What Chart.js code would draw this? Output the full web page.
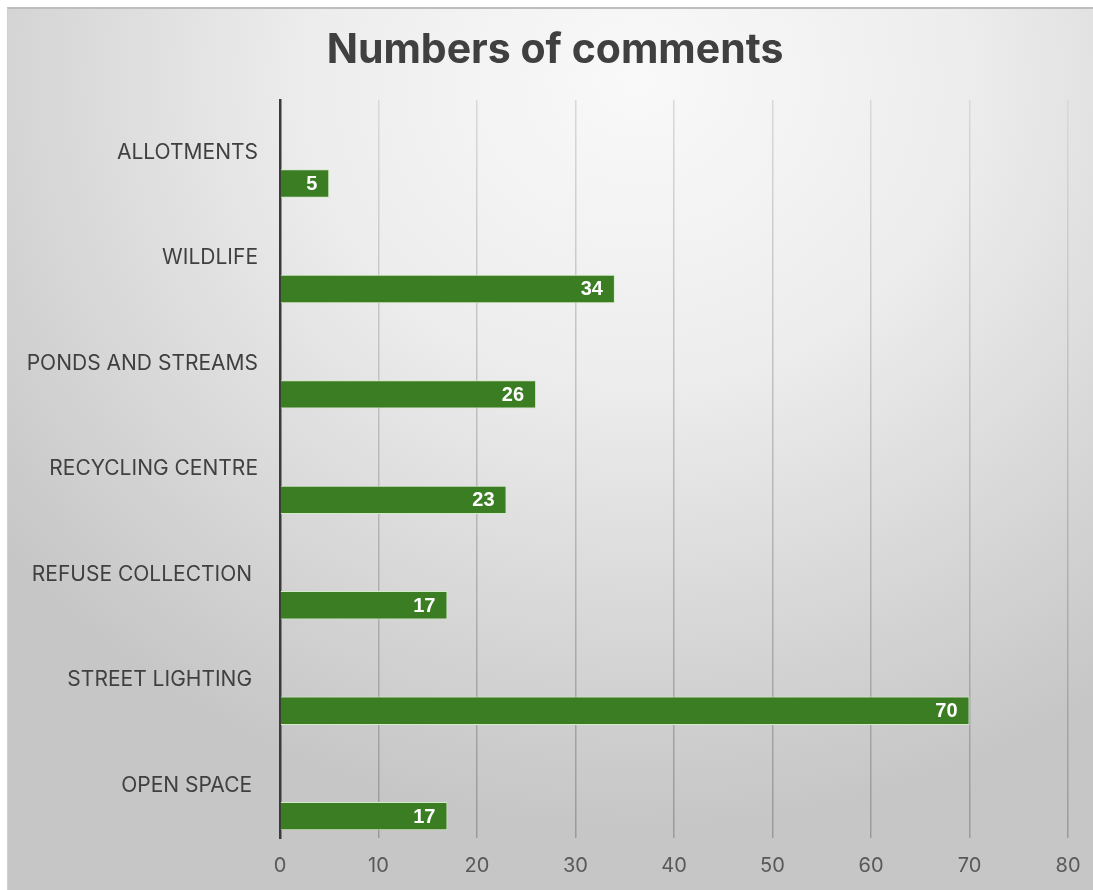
<!DOCTYPE html>
<html>
<head>
<meta charset="utf-8">
<script src="https://cdn.jsdelivr.net/npm/chart.js@4.4.1/dist/chart.umd.min.js"></script>
<style>
    html, body { margin: 0; padding: 0; background: #ffffff; }
    #frame {
        position: absolute; left: 7px; top: 7px; width: 1086px; height: 883px;
        border-top: 2px solid #bdbdbd; border-left: 1px solid #d0d0d0;
        box-sizing: border-box;
        background: radial-gradient(ellipse 75% 85% at 58% 8%, #f9f9f9 0%, #ededed 40%, #d6d6d6 75%, #c6c6c6 100%);
    }
    #wrap { position: absolute; left: 0; top: 0; width: 1093px; height: 890px; }
</style>
</head>
<body>
<div id="frame"></div>
<div id="wrap"><canvas id="commentsChart" width="1093" height="890"></canvas></div>
<script>
// Chart data
const chartTitle = 'Numbers of comments';
const categories = ['ALLOTMENTS', 'WILDLIFE', 'PONDS AND STREAMS', 'RECYCLING CENTRE', 'REFUSE COLLECTION ', 'STREET LIGHTING ', 'OPEN SPACE '];
const commentCounts = [5, 34, 26, 23, 17, 70, 17];
const spacerValues = [null, null, null, null, null, null, null];
const xTicks = [0, 10, 20, 30, 40, 50, 60, 70, 80];

// Title centred over the whole frame (the built-in title would sit off centre)
const frameTitle = {
    id: 'frameTitle',
    afterDraw(chart) {
        const ctx = chart.ctx;
        ctx.save();
        ctx.font = 'bold 41px Inter, "Liberation Sans", sans-serif';
        ctx.fillStyle = '#404040';
        ctx.textAlign = 'center';
        ctx.textBaseline = 'middle';
        ctx.fillText(chartTitle, 555, 51);
        ctx.restore();
    }
};

// Value labels drawn inside the bar ends
const barValueLabels = {
    id: 'barValueLabels',
    afterDatasetsDraw(chart) {
        const ctx = chart.ctx;
        const meta = chart.getDatasetMeta(1);
        ctx.save();
        ctx.font = 'bold 20px "Liberation Sans", Arial, sans-serif';
        ctx.fillStyle = '#ffffff';
        ctx.textAlign = 'right';
        ctx.textBaseline = 'middle';
        meta.data.forEach((bar, i) => {
            ctx.fillText(String(commentCounts[i]), bar.x - 12, bar.y + 1);
        });
        ctx.restore();
    }
};

const ctx = document.getElementById('commentsChart');

new Chart(ctx, {
    type: 'bar',
    data: {
        labels: categories,
        datasets: [{
            label: 'spacer',
            data: spacerValues,
            backgroundColor: 'rgba(0,0,0,0)'
        }, {
            label: chartTitle,
            data: commentCounts,
            backgroundColor: '#3b7d23',
            borderColor: '#d3ebc6',
            borderWidth: 1,
            borderSkipped: 'start'
        }]
    },
    options: {
        indexAxis: 'y',
        responsive: false,
        animation: false,
        categoryPercentage: 1.17,
        barPercentage: 0.46,
        layout: {
            padding: { left: 0, right: 25, top: 100, bottom: 0 }
        },
        scales: {
            x: {
                min: 0,
                max: 80,
                afterBuildTicks(scale) {
                    scale.ticks = xTicks.map(v => ({ value: v }));
                },
                afterFit(scale) {
                    scale.height = 52;
                    scale.paddingLeft = 0;
                    scale.paddingRight = 0;
                },
                grid: {
                    drawTicks: false,
                    lineWidth: 1.5,
                    color(context) {
                        const area = context.chart.chartArea;
                        if (!area) return '#b5b5b5';
                        const g = context.chart.ctx.createLinearGradient(0, area.top, 0, area.bottom);
                        g.addColorStop(0, '#d8d8d8');
                        g.addColorStop(1, '#9a9a9a');
                        return g;
                    }
                },
                border: { display: false },
                ticks: {
                    padding: 16,
                    color: '#595959',
                    font: { family: 'Inter, "Liberation Sans", sans-serif', size: 20 }
                }
            },
            y: {
                afterFit(scale) {
                    scale.width = 280;
                    scale.paddingTop = 0;
                    scale.paddingBottom = 0;
                },
                grid: { display: false, drawTicks: false },
                border: { display: true, color: '#3a3a3a', width: 2.5 },
                ticks: {
                    padding: 22,
                    color: '#404040',
                    font: { family: 'Inter, "Liberation Sans", sans-serif', size: 21 }
                }
            }
        },
        plugins: {
            legend: { display: false },
            tooltip: { enabled: false },
            title: { display: false }
        }
    },
    plugins: [barValueLabels, frameTitle]
});
</script>
</body>
</html>
